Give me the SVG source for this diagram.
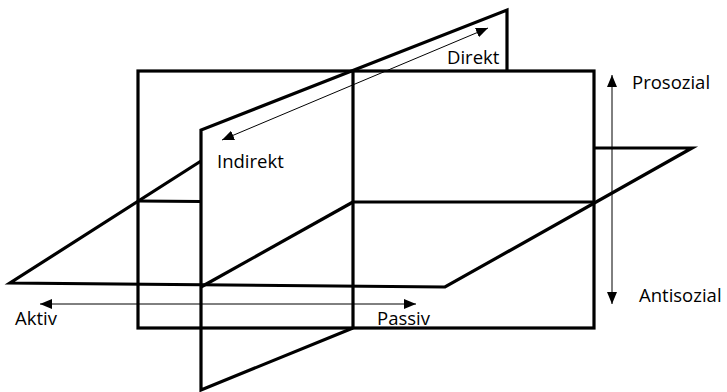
<svg xmlns="http://www.w3.org/2000/svg" width="727" height="392" viewBox="0 0 727 392">
<style>
.thick{fill:none;stroke:#000;stroke-width:3.2;stroke-linejoin:miter;stroke-miterlimit:10}
.thin{fill:none;stroke:#000;stroke-width:1;marker-start:url(#ah);marker-end:url(#ah)}
.lbl{font-family:"Open Sans","Liberation Sans",Arial,sans-serif;font-size:18.5px;fill:#000}
</style>
<defs>
<marker id="ah" viewBox="0 0 12 10" refX="12" refY="5" markerWidth="12" markerHeight="10" markerUnits="userSpaceOnUse" orient="auto-start-reverse">
<path d="M0,0 L12,5 L0,10 Z" fill="#000"/>
</marker>
</defs>
<rect width="727" height="392" fill="#fff"/>
<g id="vertical-plane">
<rect class="thick" x="138" y="71" width="456" height="257"/>
<line class="thick" x1="353" y1="71" x2="353" y2="328"/>
</g>
<g id="tilted-plane">
<polyline class="thick" points="507,71 507,10 201,130 201,390 353,328"/>
</g>
<g id="horizontal-plane">
<polyline class="thick" points="201,161 10,283 445,287 692,148 594,148"/>
<line class="thick" x1="138" y1="201" x2="201" y2="201.5"/>
<line class="thick" x1="353" y1="202" x2="594" y2="202"/>
<line class="thick" x1="201" y1="287" x2="353" y2="202"/>
</g>
<g id="connectors">
<line class="thin" x1="222" y1="140" x2="488" y2="28"/>
<line class="thin" x1="40" y1="304" x2="416" y2="304"/>
<line class="thin" x1="612" y1="75" x2="612" y2="304"/>
</g>
<g id="labels">
<text class="lbl" x="447" y="64">Direkt</text>
<text class="lbl" x="217" y="168">Indirekt</text>
<text class="lbl" x="15" y="325">Aktiv</text>
<text class="lbl" x="377" y="325">Passiv</text>
<text class="lbl" x="632" y="89">Prosozial</text>
<text class="lbl" x="639" y="302">Antisozial</text>
</g>
</svg>
